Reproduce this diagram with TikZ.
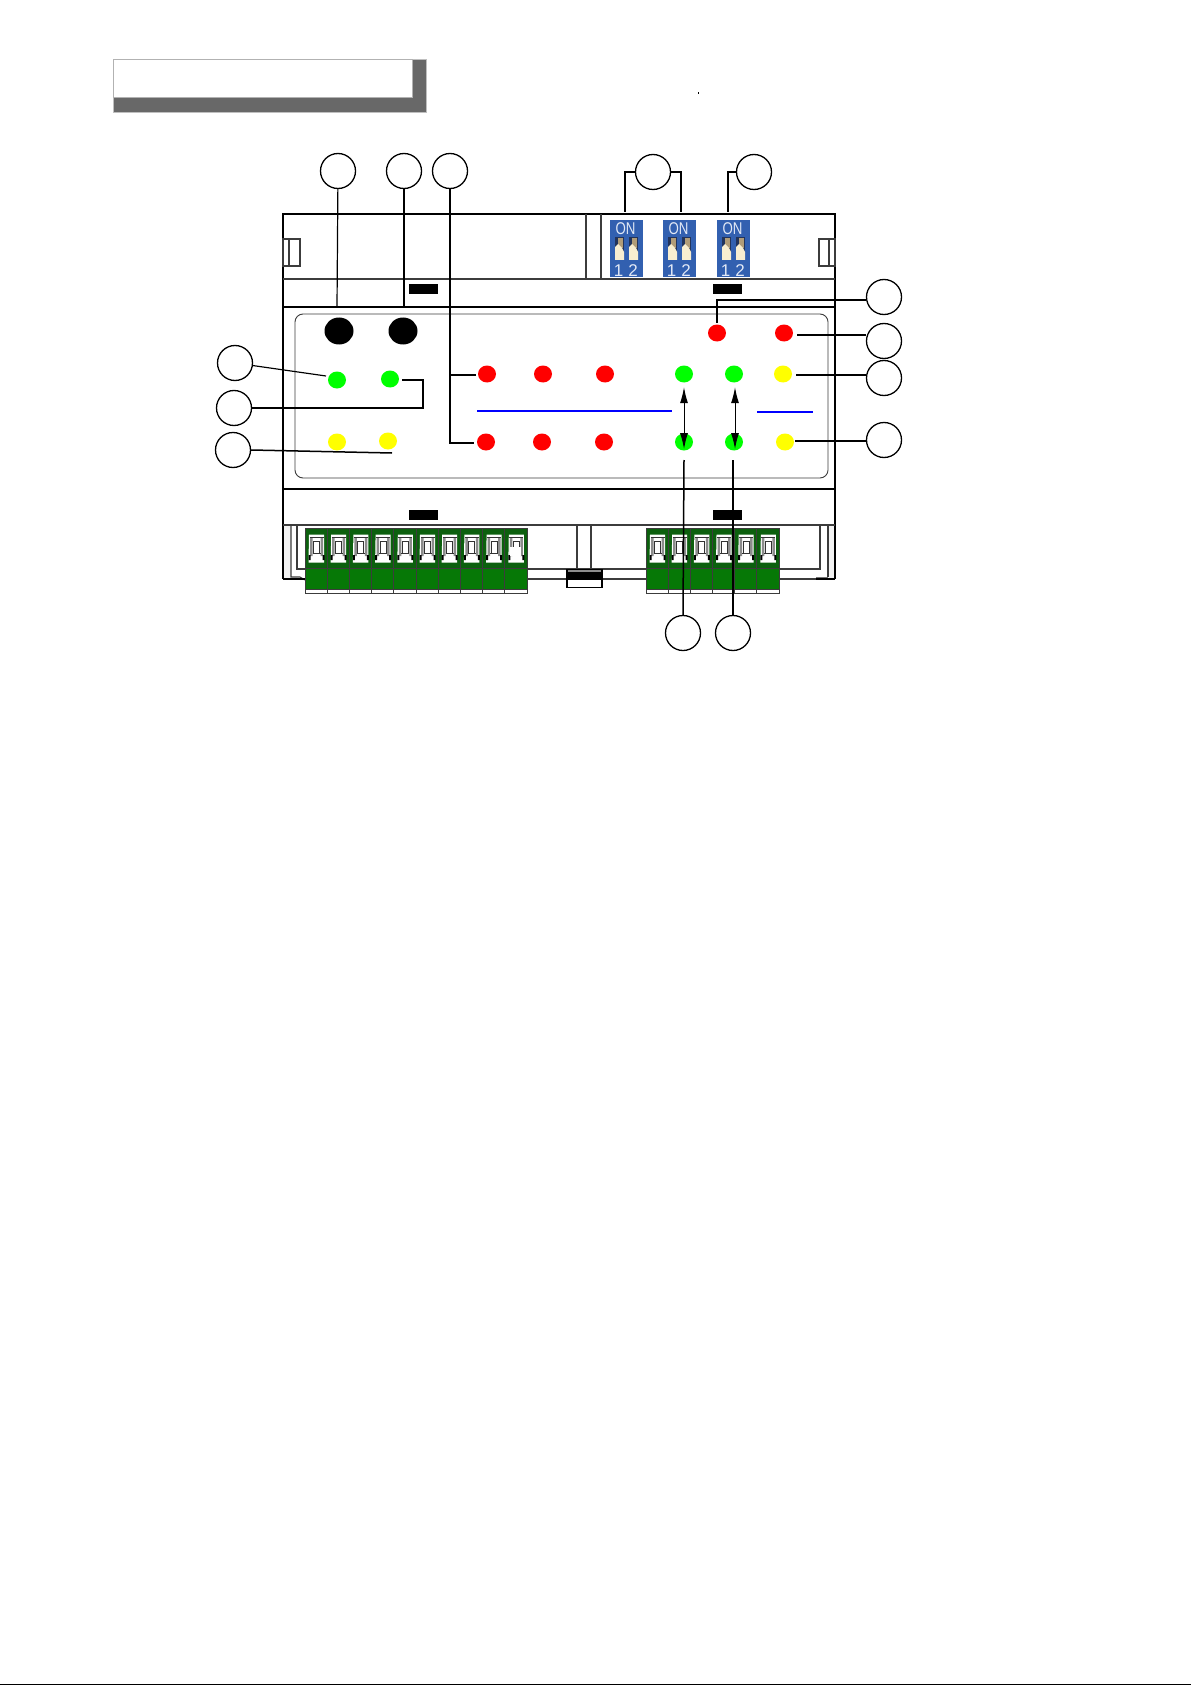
\documentclass[tikz,border=0pt]{standalone}
\usepackage{fontspec}
\setmainfont{Liberation Sans}
\usetikzlibrary{shapes.geometric,arrows.meta}
\definecolor{termdark}{RGB}{12,96,14}
\definecolor{termgreen}{RGB}{6,120,6}
\definecolor{dipblue}{RGB}{50,96,176}
\definecolor{dipshade}{RGB}{34,52,92}
\definecolor{dipcream}{RGB}{248,238,208}
\definecolor{dipbrown}{RGB}{176,156,120}
\definecolor{diptext}{RGB}{226,233,246}
\definecolor{framegray}{RGB}{60,60,60}
\definecolor{shadowgray}{RGB}{104,104,104}
\definecolor{ledgreen}{RGB}{0,255,0}
\definecolor{ledred}{RGB}{255,0,0}
\definecolor{ledyellow}{RGB}{255,255,0}
\tikzset{
  callout/.style={circle,draw=black,line width=1.3pt,minimum size=35pt,inner sep=0pt},
  led/.style={ellipse,inner sep=0pt,minimum width=18pt,minimum height=17pt},
  leadline/.style={line width=1.5pt,black},
  thinlead/.style={line width=1.2pt,black},
  heavy/.style={line width=2.6pt,black},
  medium/.style={line width=1.1pt,framegray},
  twotip/.style={line width=1pt,{Latex[length=16pt,width=8pt]}-{Latex[length=16pt,width=8pt]}},
  blueline/.style={line width=1.5pt,blue},
  slot/.style={fill=black,inner sep=0pt,minimum width=29pt,minimum height=10pt}
}
\begin{document}
\begin{tikzpicture}[x=1pt,y=-1pt]
\useasboundingbox (0,0) rectangle (1191,1685);
\fill[white] (0,0) rectangle (1191,1685);
% page bottom line and speck
\fill[black] (0,1683.5) rectangle (1191,1685);
\fill[black] (697.5,92.5) rectangle (698.7,93.7);
% header box
\fill[shadowgray,draw=black!25,line width=.6pt] (113,59) rectangle (426,112);
\fill[white,draw=black!30,line width=.8pt] (113,59) rectangle (412,97);
% light side strips
\fill[black!5] (283,525) rectangle (297,579);
\fill[black!5] (828,525) rectangle (835,579);
\fill[white] (291,525) rectangle (297,577);
% device body
\draw[heavy] (283,579) -- (283,214) -- (835,214) -- (835,579);
\draw[medium] (283,279) -- (835,279);
\draw[heavy] (283,307) -- (835,307);
\draw[heavy] (283,489) -- (835,489);
\draw[medium] (283,525) -- (835,525);
\draw[line width=.9pt,framegray] (295,322) arc[start angle=180,end angle=270,radius=8] -- (820,314) arc[start angle=270,end angle=360,radius=8] -- (828,470) arc[start angle=0,end angle=90,radius=8] -- (303,478) arc[start angle=90,end angle=180,radius=8] -- cycle;
\draw[medium] (586,214) -- (586,279) (601,214) -- (601,279);
\draw[medium] (283,239) rectangle (300,266) (289,239) -- (289,266);
\draw[medium] (819,239) rectangle (835,266) (829,239) -- (829,266);
% lower rails
\draw[medium] (291,525) -- (291,577) -- (300,577) -- (305,580);
\draw[medium] (297,525) -- (297,569) -- (305,569);
\draw[line width=1.8pt,black] (283,579) -- (305,579);
\draw[medium] (577,525) -- (577,569) (591,525) -- (591,569);
\draw[medium] (527,569) -- (646,569) (527,579) -- (646,579);
\draw[medium] (779,569) -- (820,569) -- (820,525);
\draw[medium] (779,579) -- (816,579);
\draw[line width=1.8pt,black] (816,579) -- (835,579);
\draw[line width=1.5pt,black!55] (816,577.5) -- (828,577.5);
\draw[medium] (828,525) -- (828,577);
% slots
\node[slot] (slotA) at (423.5,289) {};
\node[slot] (slotB) at (727.5,289) {};
\node[slot] (slotC) at (423.5,514.5) {};
\node[slot] (slotD) at (727.5,515) {};
% centre clip
\fill[white,draw=black,line width=1.8pt] (567,570) rectangle (602,587.5);
\fill[black!45] (568,570) rectangle (601,572);
\fill[black] (568,572) rectangle (601,580);
% terminal blocks
\foreach \x/\n/\w in {305/10/22.2,646/6/22.17}{
  \pgfmathsetmacro{\xend}{\x+\n*\w}
  \fill[termdark] (\x,528) rectangle (\xend,568);
  \fill[termgreen] (\x,568) rectangle (\xend,589);
  \fill[white] (\x,589) rectangle (\xend,593);
  \foreach \i in {1,...,\n}{
    \pgfmathsetmacro{\a}{\x+(\i-1)*\w}
    \fill[white] (\a+4,534.5) -- (\a+19,534.5) -- (\a+19,562.5) -- (\a+3.5,562.5) -- cycle;
    \fill[black!45] (\a+5,538) rectangle (\a+7.5,556) (\a+15.5,538) rectangle (\a+18,556);
    \draw[line width=.9pt,black!80] (\a+4.5,537.5) -- (\a+18.5,537.5);
    \draw[line width=.9pt,black!80] (\a+8.5,541) rectangle (\a+14.5,553);
    \draw[line width=.9pt,black!80] (\a+7.5,553) -- (\a+15.5,553);
    \fill[black] (\a+3.5,555) rectangle (\a+5.5,560) (\a+17.5,555) rectangle (\a+19.5,560);
    \draw[line width=1pt,framegray] (\a,528) -- (\a,593);
  }
  \draw[line width=1pt,framegray] (\xend,528) -- (\xend,593) -- (\x,593) -- (\x,528) -- cycle;
  \draw[line width=1pt,framegray] (\x,568) -- (\xend,568);
  \draw[line width=.8pt,framegray] (\x,589) -- (\xend,589);
}
% last terminal of left block is partly open
\fill[white] (510,547) rectangle (521,556);
% DIP switches
\foreach \nm/\x in {dipA/610,dipB/663,dipC/717}{
  \fill[dipblue] (\x,220) rectangle (\x+33,277);
  \foreach \d in {5,19}{
    \fill[dipshade] (\x+\d,237.5) rectangle (\x+\d+9,252);
    \fill[dipbrown] (\x+\d+3,238.5) rectangle (\x+\d+8,248);
    \fill[dipcream] (\x+\d,247) -- (\x+\d+3,244) -- (\x+\d+7,248) -- (\x+\d+9,252) -- (\x+\d+9,260) -- (\x+\d,260) -- cycle;
  }
  \node[text=diptext,font=\fontsize{17}{17}\selectfont,inner sep=0pt] (\nm on) at (\x+15.5,229) {\scalebox{0.78}[1]{ON}};
  \begin{scope}
    \clip (\x,220) rectangle (\x+33,277);
    \node[text=diptext,font=\fontsize{17}{17}\selectfont,inner sep=0pt] (\nm one) at (\x+8.5,271) {1};
    \node[text=diptext,font=\fontsize{17}{17}\selectfont,inner sep=0pt] (\nm two) at (\x+23,271) {2};
  \end{scope}
}
% blue lines
\coordinate (blA) at (477,411); \coordinate (blB) at (672,411);
\coordinate (blC) at (757,412); \coordinate (blD) at (813,412);
\draw[blueline] (blA) -- (blB);
\draw[blueline] (blC) -- (blD);
% LEDs
\node[led,fill=black,minimum width=29pt,minimum height=27pt] (kA) at (339,331) {};
\node[led,fill=black,minimum width=29pt,minimum height=27pt] (kB) at (403,331) {};
\node[led,fill=ledgreen] (glA) at (337,380) {};
\node[led,fill=ledgreen] (glB) at (390,379) {};
\node[led,fill=ledyellow] (ylA) at (337,442) {};
\node[led,fill=ledyellow] (ylB) at (388,441) {};
\node[led,fill=ledred] (rA) at (487,374) {};
\node[led,fill=ledred] (rB) at (543,374) {};
\node[led,fill=ledred] (rC) at (605,374) {};
\node[led,fill=ledred] (rD) at (486,442) {};
\node[led,fill=ledred] (rE) at (542,442) {};
\node[led,fill=ledred] (rF) at (604,442) {};
\node[led,fill=ledgreen] (gA) at (684,374) {};
\node[led,fill=ledgreen] (gB) at (734,374) {};
\node[led,fill=ledgreen] (gC) at (684,442) {};
\node[led,fill=ledgreen] (gD) at (734,442) {};
\node[led,fill=ledyellow] (yA) at (783,374) {};
\node[led,fill=ledyellow] (yB) at (785,442) {};
\node[led,fill=ledred] (rG) at (717,333) {};
\node[led,fill=ledred] (rH) at (784,333) {};
% callouts
\node[callout] (cA) at (338,171) {};
\node[callout] (cB) at (404,171) {};
\node[callout] (cC) at (450,171) {};
\node[callout] (cD) at (653,172) {};
\node[callout] (cE) at (754,172) {};
\node[callout] (cF) at (884,297) {};
\node[callout] (cG) at (884,341) {};
\node[callout] (cH) at (884,378) {};
\node[callout] (cI) at (884,440) {};
\node[callout] (cJ) at (235,363) {};
\node[callout] (cK) at (234,408) {};
\node[callout] (cL) at (233,450) {};
\node[callout] (cM) at (683,633) {};
\node[callout] (cN) at (733,633) {};
% free ends
\coordinate (eA) at (337,307);
\coordinate (eB) at (404,307);
\coordinate (eC) at (450,375);
\coordinate (eCa) at (450,443);
\coordinate (eCb) at (476,375);
\coordinate (eCc) at (474,443);
\coordinate (eDa) at (625,212);
\coordinate (eDb) at (681,212);
\coordinate (eE) at (728,212);
\coordinate (eF) at (866,300);
\coordinate (eG) at (797,335);
\coordinate (eGa) at (866,335);
\coordinate (eH) at (796,375);
\coordinate (eHa) at (866,375);
\coordinate (eI) at (795,441);
\coordinate (eIa) at (866,441);
\coordinate (eJ) at (326,376);
\coordinate (eK) at (423,408);
\coordinate (eKa) at (423,380);
\coordinate (eKb) at (402,380);
\coordinate (eL) at (392,453);
\coordinate (eM) at (684,460);
\coordinate (eN) at (733,460);
% connectors
\draw[thinlead] (cA) -- (eA);
\draw[leadline] (cB) -- (eB);
\draw[leadline] (cC) -- (eCa) -- (eCc);
\draw[thinlead] (eC) -- (eCb);
\draw[leadline] (cD.west) -| (eDa);
\draw[leadline] (cD.east) -| (eDb);
\draw[leadline] (cE.west) -| (eE);
\draw[leadline] (eF) -| ([yshift=1.5pt]rG.north);
\draw[leadline] (eGa) -- (eG);
\draw[thinlead] (eHa) -- (eH);
\draw[leadline] (eIa) -- (eI);
\draw[thinlead] (cJ) -- (eJ);
\draw[thinlead] (cK.east) -- (eK) -- (eKa) -- (eKb);
\draw[leadline] (cL.east) -- (eL);
\draw[twotip] ([yshift=-4.5pt]gA.south) -- ([yshift=-7pt]gC.center);
\draw[twotip] ([xshift=1pt,yshift=-4.5pt]gB.south) -- ([xshift=1pt,yshift=-7pt]gD.center);
\draw[leadline] (cM.north) -- (eM);
\draw[leadline] (cN.north) -- (eN);
\end{tikzpicture}
\end{document}
